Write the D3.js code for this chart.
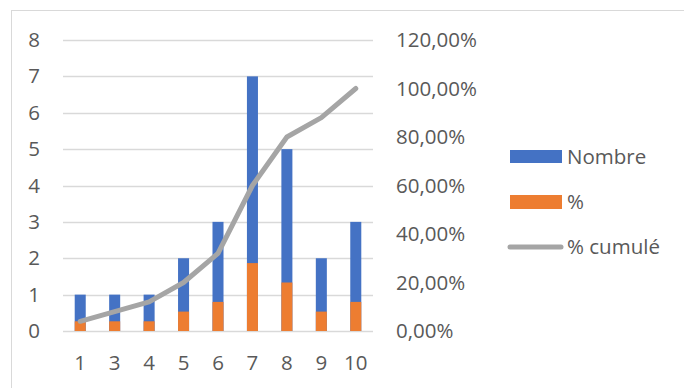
<!DOCTYPE html>
<html><head><meta charset="utf-8">
<script src="https://cdn.jsdelivr.net/npm/d3@7"></script>
<style>body{margin:0;background:#fff}svg{display:block}text{font-family:"Open Sans",sans-serif;fill:#595959}</style>
</head><body>
<svg id="c" width="685" height="388"></svg>
<script>
const categories = ["1","3","4","5","6","7","8","9","10"];
const nombre = [1,1,1,2,3,7,5,2,3];
const pct = [0.04,0.04,0.04,0.08,0.12,0.28,0.20,0.08,0.12];
const cumul = [0.04,0.08,0.12,0.20,0.32,0.60,0.80,0.88,1.00];
const leftTicks = [0,1,2,3,4,5,6,7,8];
const rightTicks = [0,0.2,0.4,0.6,0.8,1.0,1.2];
const legendItems = ["Nombre","%","% cumulé"];

const FS = 20.5;
const svg = d3.select("#c");
// frame
svg.append("line").attr("x1",11).attr("x2",684).attr("y1",10.5).attr("y2",10.5).attr("stroke","#d9d9d9");
svg.append("line").attr("x1",11.5).attr("x2",11.5).attr("y1",10).attr("y2",388).attr("stroke","#d9d9d9");

const x0=63, x1=373, yTop=40, yBot=331;
const x = d3.scaleBand().domain(categories).range([x0,x1]).paddingInner(0.68).paddingOuter(0.34);
const yL = d3.scaleLinear().domain([0,8]).range([yBot,yTop]);
const yR = d3.scaleLinear().domain([0,1.2]).range([yBot,yTop]);
const fmt = v => d3.format(".2f")(v*100).replace(".",",")+"%";

// grid
svg.append("g").selectAll("line").data(leftTicks).join("line")
  .attr("x1",x0).attr("x2",x1).attr("y1",d=>Math.round(yL(d))+0.5).attr("y2",d=>Math.round(yL(d))+0.5)
  .attr("stroke","#d9d9d9").attr("stroke-width",1.3);

function style(g){
  g.select(".domain").remove();
  g.selectAll("text").attr("font-size",FS).style("font-family","'Open Sans',sans-serif").attr("fill","#595959");
}
// left axis
svg.append("g").attr("transform",`translate(40,0)`)
  .call(d3.axisLeft(yL).tickValues(leftTicks).tickSize(0).tickPadding(0)).call(style);
// right axis
svg.append("g").attr("transform",`translate(396,0)`)
  .call(d3.axisRight(yR).tickValues(rightTicks).tickFormat(fmt).tickSize(0).tickPadding(0)).call(style);
// bottom axis
svg.append("g").attr("transform",`translate(0,355)`)
  .call(d3.axisBottom(x).tickSize(0).tickPadding(0)).call(style);

// bars
svg.append("g").selectAll("rect").data(nombre).join("rect")
  .attr("x",(d,i)=>x(categories[i])).attr("width",x.bandwidth())
  .attr("y",d=>yL(d)).attr("height",d=>yBot-yL(d)).attr("fill","#4472c4");
svg.append("g").selectAll("rect").data(pct).join("rect")
  .attr("x",(d,i)=>x(categories[i])).attr("width",x.bandwidth())
  .attr("y",d=>yR(d)).attr("height",d=>yBot-yR(d)).attr("fill","#ed7d31");

// line
const line = d3.line().x((d,i)=>x(categories[i])+x.bandwidth()/2).y(d=>yR(d));
svg.append("path").datum(cumul).attr("d",line).attr("fill","none")
  .attr("stroke","#a5a5a5").attr("stroke-width",5).attr("stroke-linecap","round").attr("stroke-linejoin","round");

// legend
const ly = [156.5,202,247];
const lg = svg.append("g");
lg.append("rect").attr("x",510).attr("y",ly[0]-6.5).attr("width",52).attr("height",13).attr("fill","#4472c4");
lg.append("rect").attr("x",510).attr("y",ly[1]-7).attr("width",52).attr("height",14).attr("fill","#ed7d31");
lg.append("line").attr("x1",510).attr("x2",561).attr("y1",ly[2]).attr("y2",ly[2]).attr("stroke","#a5a5a5").attr("stroke-width",5).attr("stroke-linecap","round");
lg.selectAll("text").data(legendItems).join("text")
  .attr("x",567).attr("y",(d,i)=>ly[i]).attr("dy","0.35em").attr("font-size",FS).text(d=>d);
</script>
</body></html>
